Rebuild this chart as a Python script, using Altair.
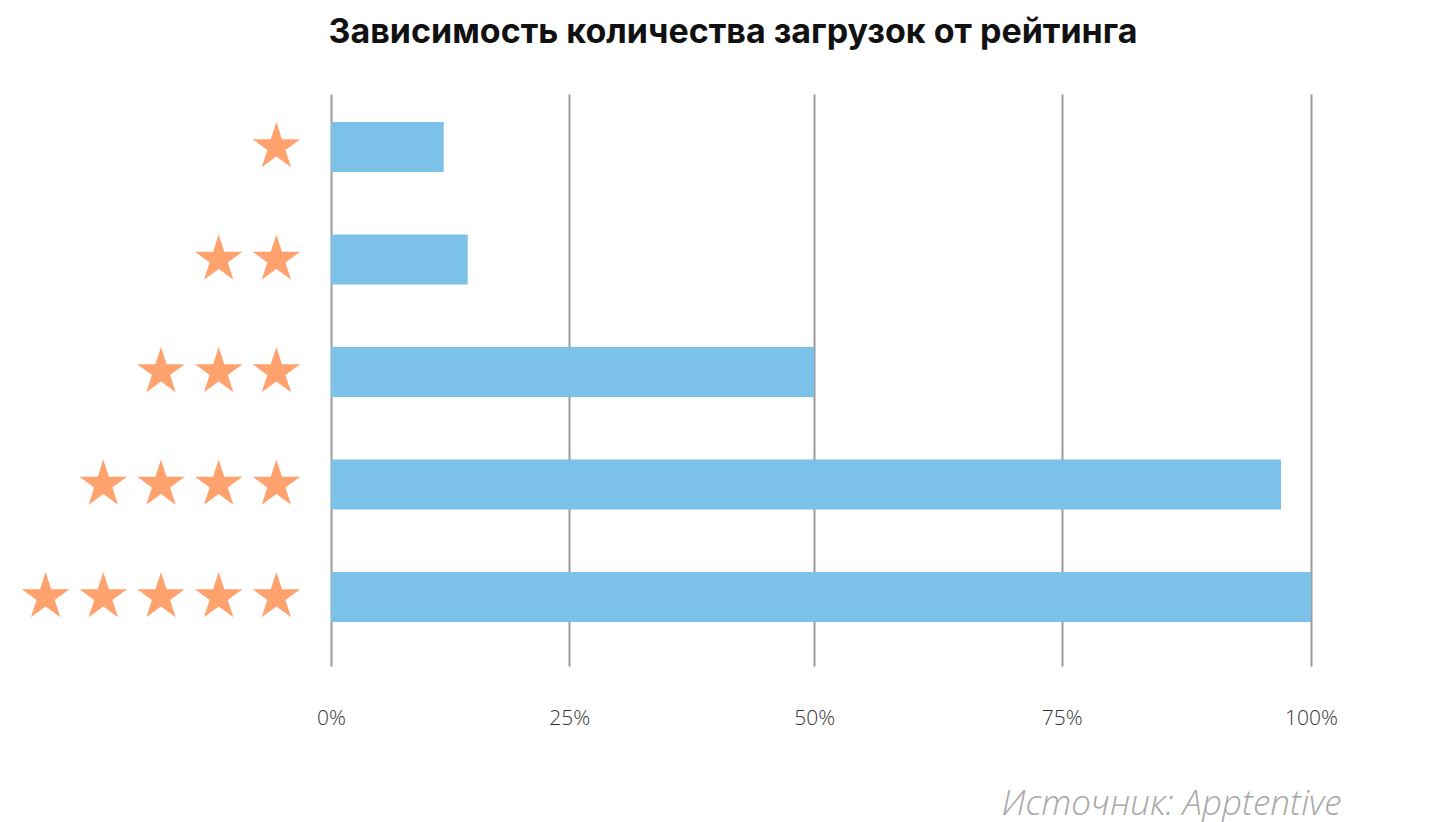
import altair as alt
import pandas as pd

# Data
ratings = [1, 2, 3, 4, 5]
downloads_pct = [12.0, 14.5, 50.0, 97.0, 100.0]
tick_values = [0, 25, 50, 75, 100]

title_text = "Зависимость количества загрузок от рейтинга"
source_text = "Источник: Apptentive"

bar_df = pd.DataFrame({"rating": ratings, "pct": downloads_pct})
star_rows = [{"rating": r, "star": k} for r in ratings for k in range(1, r + 1)]
star_df = pd.DataFrame(star_rows)

BAR_COLOR = "#7cc2e8"
STAR_COLOR = "#ffa26e"
GRID_COLOR = "#9a9a9a"

STAR_PATH = ("M0,-1L0.2245,-0.309L0.951,-0.309L0.3633,0.118L0.5878,0.809"
             "L0,0.382L-0.5878,0.809L-0.3633,0.118L-0.951,-0.309L-0.2245,-0.309Z")

H = 572


def yscale():
    return alt.Scale(type="band", paddingInner=0.5556, paddingOuter=0.32, align=0.389)


ysort = ratings

stars = alt.Chart(star_df).mark_point(
    shape=STAR_PATH, filled=True, color=STAR_COLOR, opacity=1, size=2500, strokeWidth=0
).encode(
    x=alt.X("star:Q", scale=alt.Scale(domain=[5.6, 0.4], nice=False, zero=False), axis=None),
    y=alt.Y("rating:O", sort=ysort, scale=yscale(), axis=None),
).properties(width=300, height=H)

bars = alt.Chart(bar_df).mark_bar(color=BAR_COLOR).encode(
    x=alt.X(
        "pct:Q",
        scale=alt.Scale(type="pow", exponent=1.02, domain=[0, 100], nice=False),
        axis=alt.Axis(
            values=tick_values,
            labelExpr="datum.value + '%'",
            grid=True, gridColor=GRID_COLOR, gridWidth=2, gridOpacity=1,
            domain=False, ticks=False, tickSize=0,
            labelFont="Open Sans", labelFontSize=21, labelFontWeight=300,
            labelColor="#333333", labelPadding=52, labelBaseline="middle",
            labelFlush=False,
            title=source_text,
            titleFont="Open Sans", titleFontSize=35, titleFontStyle="italic",
            titleFontWeight=300, titleColor="#a8a8a8",
            titleAnchor="end", titleAlign="right", titleBaseline="middle",
            titleX=1010, titleY=137,
        ),
    ),
    y=alt.Y("rating:O", sort=ysort, scale=yscale(), axis=None),
).properties(width=980, height=H)

chart = alt.hconcat(stars, bars, spacing=20, bounds="flush").properties(
    title=alt.TitleParams(
        text=title_text, font="Inter", fontSize=34, fontWeight=700,
        color="#111111", anchor="middle", dx=57, offset=44,
    ),
    padding={"left": 3, "top": 8, "right": 5, "bottom": 5},
).configure_view(stroke=None)

chart.save("out.html", embed_options={"renderer": "svg", "actions": False})
